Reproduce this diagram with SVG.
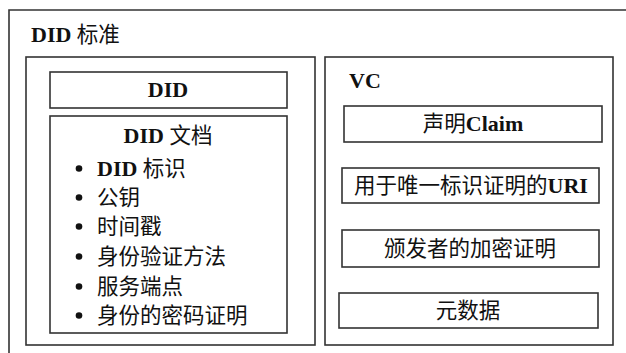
<svg xmlns="http://www.w3.org/2000/svg" width="626" height="353" viewBox="0 0 626 353">
<style>
.box{fill:none;stroke:#333;stroke-width:1.6}
.dot{fill:#111}
text{font-family:"Liberation Serif","Noto Sans CJK SC",serif;font-size:22px;fill:#111}
.b{font-weight:bold}
.c{text-anchor:middle}
.cj{font-family:"Noto Sans CJK SC",sans-serif;font-size:21.5px;font-weight:normal}
</style>
<rect width="626" height="353" fill="#fff"/>
<g id="outer">
<path class="box" d="M9,353 V10 H626"/>
<text x="31" y="42" class="b">DID <tspan class="cj">标准</tspan></text>
</g>
<g id="left-panel">
<rect class="box" x="26" y="57" width="289" height="288"/>
</g>
<g id="did">
<rect class="box" x="50" y="72" width="237" height="36"/>
<text x="168" y="97" class="b c">DID</text>
</g>
<g id="did-doc">
<rect class="box" x="50" y="116" width="237" height="217"/>
<text x="168" y="143" class="b c">DID <tspan class="cj">文档</tspan></text>
<circle class="dot" cx="79" cy="168.5" r="3.3"/>
<text x="97" y="176" class="b">DID <tspan class="cj">标识</tspan></text>
<circle class="dot" cx="79" cy="197.5" r="3.3"/>
<text x="97" y="205" class="cj">公钥</text>
<circle class="dot" cx="79" cy="226.5" r="3.3"/>
<text x="97" y="234" class="cj">时间戳</text>
<circle class="dot" cx="79" cy="256.5" r="3.3"/>
<text x="97" y="264" class="cj">身份验证方法</text>
<circle class="dot" cx="79" cy="286.5" r="3.3"/>
<text x="97" y="294" class="cj">服务端点</text>
<circle class="dot" cx="79" cy="315.5" r="3.3"/>
<text x="97" y="323" class="cj">身份的密码证明</text>
</g>
<g id="vc-panel">
<rect class="box" x="325" y="57" width="288" height="288"/>
<text x="349" y="88" class="b">VC</text>
</g>
<g id="claim">
<rect class="box" x="344" y="106" width="258" height="36"/>
<text x="473" y="131" class="c"><tspan class="cj">声明</tspan><tspan class="b">Claim</tspan></text>
</g>
<g id="uri">
<rect class="box" x="342" y="168" width="257" height="35"/>
<text x="471" y="193" class="c"><tspan class="cj">用于唯一标识证明的</tspan><tspan class="b">URI</tspan></text>
</g>
<g id="issuer-proof">
<rect class="box" x="342" y="230" width="257" height="37"/>
<text x="470" y="256" class="c cj">颁发者的加密证明</text>
</g>
<g id="metadata">
<rect class="box" x="339" y="293" width="259" height="35"/>
<text x="468" y="318" class="c cj">元数据</text>
</g>
<g id="connectors"/>
</svg>
